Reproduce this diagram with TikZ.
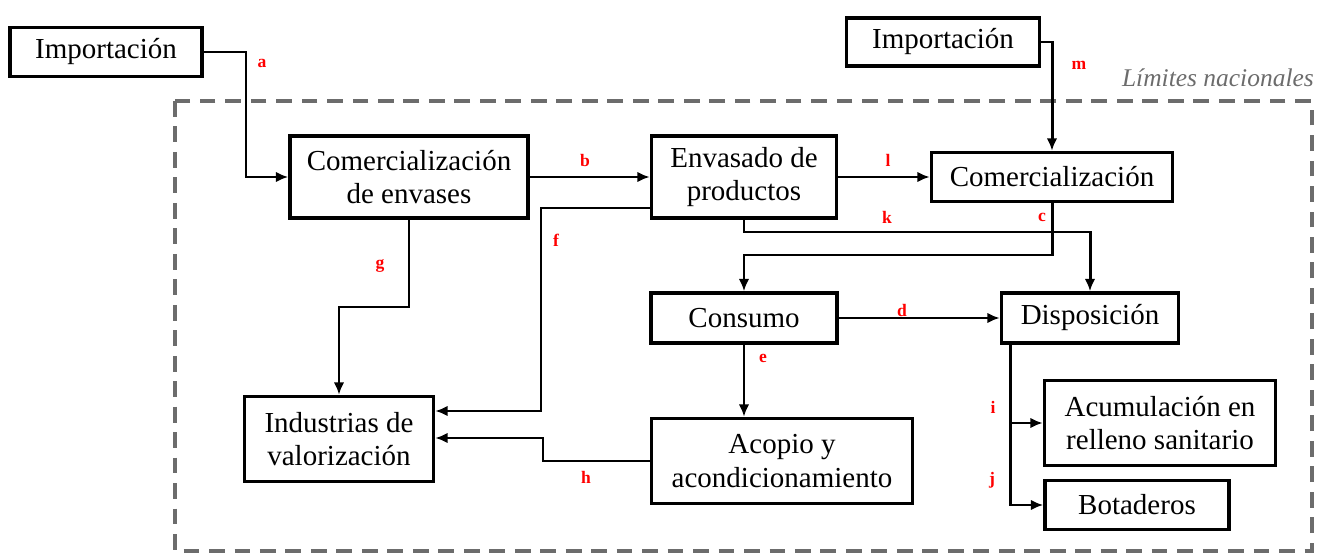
\documentclass[tikz,border=0pt]{standalone}
\usepackage{fontspec}
\setmainfont{Liberation Serif}
\usepackage{tikz}
\usetikzlibrary{positioning, arrows.meta}
\tikzset{
    x=0.02cm, y=-0.02cm, % one unit is one pixel of the sketch
    >={Latex[length=7pt,width=6pt]}, % small filled arrow heads
    block/.style={draw, line width=2pt, align=center, inner sep=2pt,
        font=\fontsize{16.5}{19}\selectfont}, % the process boxes
    flow/.style={->, line width=1.7pt}, % the flows between boxes
    flowlabel/.style={text=red, font=\fontsize{10}{11}\selectfont\bfseries}, % red letters
}

\begin{document}
\begin{tikzpicture}
    \useasboundingbox (0,0) rectangle (1323,554);
    % national boundary
    \draw[gray!85!black, line width=2.3pt, dash pattern=on 9pt off 5.5pt] (175,101) rectangle (1312,551);
    \node[anchor=east, text=gray!85!black, font=\fontsize{14.5}{16}\selectfont\itshape] (limites) at (1320,78) {Límites nacionales};

    \node[block, minimum width=3.84cm, minimum height=0.98cm] (imp1) at (106,52) {Importación};
    \node[block, minimum width=3.86cm, minimum height=0.96cm] (imp2) at (943,42) {Importación};
    \node[block, minimum width=4.76cm, minimum height=1.64cm] (comenv) at (409,177) {Comercialización\\de envases};
    \node[block, minimum width=3.70cm, minimum height=1.64cm] (env) at (744,177) {Envasado de\\productos};
    \node[block, minimum width=4.82cm, minimum height=0.98cm] (com) at (1052,177) {Comercialización};
    \node[block, minimum width=3.72cm, minimum height=1.00cm] (cons) at (744,318) {Consumo};
    \node[block, minimum width=3.54cm, minimum height=1.00cm] (disp) at (1090,318) {Disposición};
    \node[block, minimum width=3.78cm, minimum height=1.70cm] (ind) at (339,439) {Industrias de\\valorización};
    \node[block, minimum width=5.22cm, minimum height=1.70cm] (acop) at (782,461) {Acopio y\\acondicionamiento};
    \node[block, minimum width=4.62cm, minimum height=1.70cm] (acum) at (1160,423) {Acumulación en\\relleno sanitario};
    \node[block, minimum width=3.68cm, minimum height=0.98cm] (bot) at (1137,505) {Botaderos};

    \draw[flow] (imp1.east) -- (246,52) |- (comenv.west);
    \draw[flow] (comenv.east) -- (env.west);
    \draw[flow] (env.east) -- (com.west);
    \draw[flow] (imp2.east) -| (com.north);
    \draw[flow] (com.south) -- (com.south |- 0,255) -| (cons.north);
    \draw[flow] (env.south) -- (env.south |- 0,232) -| (disp.north);
    \draw[flow] ([yshift=-0.62cm]env.west) -| (541,411) -- (ind.east |- 0,411);
    \draw[flow] (comenv.south) -- (409,307) -| (ind.north);
    \draw[flow] (acop.west) -- (543,461) |- (ind.east |- 0,438);
    \draw[flow] (cons.east) -- (disp.west);
    \draw[flow] (cons.south) -- (cons.south |- acop.north);
    \draw[flow] ([xshift=0.22cm]disp.south west) |- (bot.west);
    \draw[flow] ([xshift=0.22cm]disp.south west |- acum.west) -- (acum.west);

    \node[flowlabel] (la) at (262,63) {a};
    \node[flowlabel] (lb) at (585,160) {b};
    \node[flowlabel] (lc) at (1042,217) {c};
    \node[flowlabel] (ld) at (902,310) {d};
    \node[flowlabel] (le) at (763,358) {e};
    \node[flowlabel] (lf) at (556,240) {f};
    \node[flowlabel] (lg) at (380,266) {g};
    \node[flowlabel] (lh) at (586,477) {h};
    \node[flowlabel] (li) at (993,407) {i};
    \node[flowlabel] (lj) at (992,480) {j};
    \node[flowlabel] (lk) at (887,217) {k};
    \node[flowlabel] (ll) at (888,160) {l};
    \node[flowlabel] (lm) at (1079,65) {m};
\end{tikzpicture}
\end{document}
